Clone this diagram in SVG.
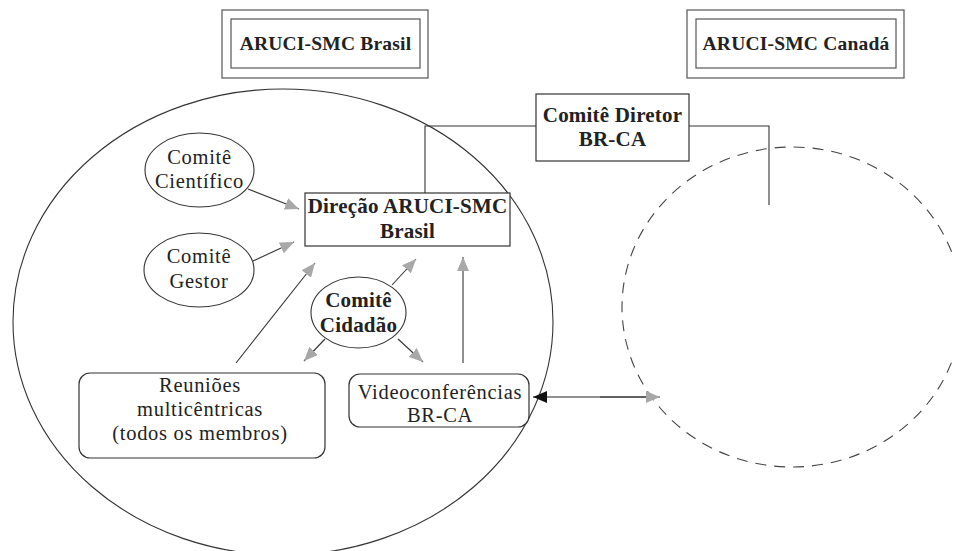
<svg xmlns="http://www.w3.org/2000/svg" width="953" height="551" viewBox="0 0 953 551">
<style>
text{font-family:"Liberation Serif","Times New Roman",serif;fill:#222;text-anchor:middle}
.b{font-weight:bold;font-size:21px;letter-spacing:0.2px}
.bt{font-weight:bold;font-size:19.5px;letter-spacing:0.2px}
.r{font-size:20.5px;letter-spacing:0.7px}
.box{fill:#fff;stroke:#333;stroke-width:1.2}
.dbl{fill:none;stroke:#555;stroke-width:1.2}
.ell{fill:#fff;stroke:#333;stroke-width:1.1}
.big{fill:none;stroke:#333;stroke-width:1.1}
.dash{fill:none;stroke:#444;stroke-width:1.1;stroke-dasharray:11 8}
.ln{fill:none;stroke:#333;stroke-width:1.1}
.arr{fill:none;stroke:#333;stroke-width:1.1;marker-end:url(#ag)}
</style>
<defs>
<marker id="ag" markerUnits="userSpaceOnUse" markerWidth="14" markerHeight="12" viewBox="0 0 14 12" refX="14" refY="6" orient="auto">
<path d="M0,0 L14,6 L0,12 z" fill="#a8a8a8"/>
</marker>
<marker id="ab" markerUnits="userSpaceOnUse" markerWidth="14" markerHeight="12" viewBox="0 0 14 12" refX="14" refY="6" orient="auto-start-reverse">
<path d="M0,0 L14,6 L0,12 z" fill="#111"/>
</marker>
</defs>
<rect width="953" height="551" fill="#fff"/>
<g id="brasil-region"><ellipse class="big" cx="283" cy="322" rx="270" ry="233"/></g>
<g id="canada-region"><ellipse class="dash" cx="792" cy="307" rx="170" ry="160"/></g>
<g id="aruci-brasil">
<rect class="dbl" x="222" y="10" width="206" height="68"/>
<rect class="dbl" x="231" y="19" width="189" height="49"/>
<text class="bt" x="325.5" y="50">ARUCI-SMC Brasil</text>
</g>
<g id="aruci-canada">
<rect class="dbl" x="687" y="10" width="217" height="68"/>
<rect class="dbl" x="696" y="19" width="200" height="49"/>
<text class="bt" x="796" y="50">ARUCI-SMC Canadá</text>
</g>
<g id="connectors">
<polyline class="ln" points="536,126 425,126 425,193"/>
<polyline class="ln" points="689,126 769,126 769,205"/>
<line class="arr" x1="248" y1="189" x2="299" y2="209"/>
<line class="arr" x1="253" y1="261" x2="294" y2="242"/>
<line class="arr" x1="236" y1="363" x2="315" y2="263"/>
<line class="arr" x1="392" y1="285" x2="416" y2="259"/>
<line class="arr" x1="325" y1="339" x2="304" y2="361"/>
<line class="arr" x1="398" y1="339" x2="423" y2="362"/>
<line class="arr" x1="463" y1="363" x2="463" y2="257"/>
<line x1="533" y1="397" x2="646" y2="397" stroke="#222" stroke-width="1.1" marker-start="url(#ab)"/>
<line class="arr" x1="600" y1="397" x2="660" y2="397"/>
</g>
<g id="comite-diretor">
<rect class="box" x="536" y="94" width="153" height="67"/>
<text class="b" x="612.5" y="122">Comitê Diretor</text>
<text class="b" x="612.5" y="146">BR-CA</text>
</g>
<g id="direcao">
<rect class="box" x="305" y="193" width="205" height="53"/>
<text class="b" x="407.5" y="213">Direção ARUCI-SMC</text>
<text class="b" x="407.5" y="238">Brasil</text>
</g>
<g id="comite-cientifico">
<ellipse class="ell" cx="199.5" cy="170" rx="54.5" ry="37"/>
<text class="r" x="199.5" y="164">Comitê</text>
<text class="r" x="199.5" y="188">Científico</text>
</g>
<g id="comite-gestor">
<ellipse class="ell" cx="199" cy="270" rx="55" ry="37"/>
<text class="r" x="199" y="263">Comitê</text>
<text class="r" x="199" y="288">Gestor</text>
</g>
<g id="comite-cidadao">
<ellipse class="ell" cx="358.5" cy="312.5" rx="47.5" ry="35.5"/>
<text class="b" x="358.5" y="307">Comitê</text>
<text class="b" x="358.5" y="332">Cidadão</text>
</g>
<g id="reunioes">
<rect class="box" x="79" y="373" width="246" height="85" rx="11"/>
<text class="r" x="200" y="392">Reuniões</text>
<text class="r" x="200" y="416">multicêntricas</text>
<text class="r" x="200" y="440">(todos os membros)</text>
</g>
<g id="videoconferencias">
<rect class="box" x="349" y="374" width="180" height="53" rx="11"/>
<text class="r" x="440" y="399">Videoconferências</text>
<text class="r" x="440" y="422">BR-CA</text>
</g>
</svg>
